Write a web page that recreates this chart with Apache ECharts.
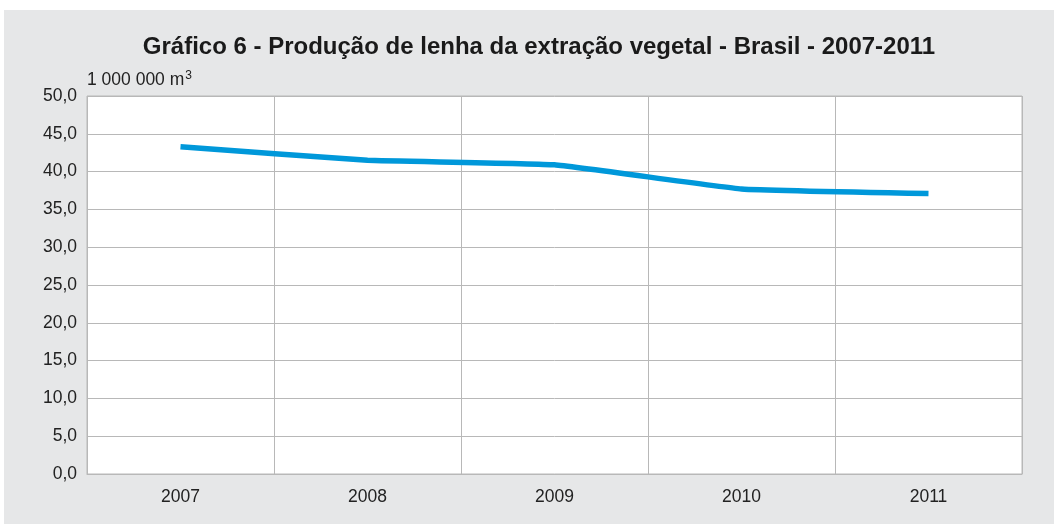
<!DOCTYPE html>
<html>
<head>
<meta charset="utf-8">
<script src="https://cdn.jsdelivr.net/npm/echarts@6/dist/echarts.min.js"></script>
<style>
	html, body { margin: 0; padding: 0; background: #ffffff; }
	#chart { position: absolute; left: 4px; top: 10px; width: 1050px; height: 514px; background: #e6e7e8; }
</style>
</head>
<body>
<div id="chart"></div>
<script>
// Produção de lenha da extração vegetal - Brasil (1 000 000 m3)
const years = ['2007', '2008', '2009', '2010', '2011']
const lenha = [43.3, 41.5, 40.9, 37.7, 37.1]

const chart = echarts.init(document.getElementById('chart'))

const fmt = (v) => v.toFixed(1).replace('.', ',')

chart.setOption({
	backgroundColor: '#e6e7e8',
	textStyle: { fontFamily: 'Liberation Sans' },
	title: {
		text: 'Gráfico 6 - Produção de lenha da extração vegetal - Brasil - 2007-2011',
		left: 530,
		textAlign: 'center',
		top: 20,
		textStyle: { fontSize: 24, fontWeight: 'bold', color: '#1a1a1a', fontFamily: 'Liberation Sans' },
	},
	grid: {
		left: 83,
		right: 32,
		top: 86,
		bottom: 50,
		show: true,
		backgroundColor: '#ffffff',
		borderColor: '#b8b8b8',
		borderWidth: 1,
	},
	xAxis: {
		type: 'category',
		data: years,
		boundaryGap: true,
		axisLine: { lineStyle: { color: '#b8b8b8', width: 1 } },
		axisTick: { show: false },
		axisLabel: { color: '#222', fontSize: 17.5, margin: 14 },
		splitLine: { show: true, lineStyle: { color: '#b8b8b8', width: 1 } },
	},
	yAxis: {
		type: 'value',
		min: 0,
		max: 50,
		interval: 5,
		name: '{a|1 000 000 m}{s|3}',
		nameLocation: 'end',
		nameGap: 5,
		nameTextStyle: {
			align: 'left',
			rich: {
				a: { fontSize: 17.5, color: '#222', fontFamily: 'Liberation Sans' },
				s: { fontSize: 12, color: '#222', verticalAlign: 'top', padding: [0, 0, 9, 1], fontFamily: 'Liberation Sans' },
			},
		},
		axisLine: { show: false },
		axisTick: { show: false },
		axisLabel: { color: '#222', fontSize: 17.5, margin: 10, formatter: fmt },
		splitLine: { lineStyle: { color: '#b8b8b8', width: 1 } },
	},
	series: [
		{
			type: 'line',
			data: lenha,
			smooth: 0.1,
			symbol: 'none',
			lineStyle: { color: '#0098da', width: 5.5 },
		},
	],
})
</script>
</body>
</html>
